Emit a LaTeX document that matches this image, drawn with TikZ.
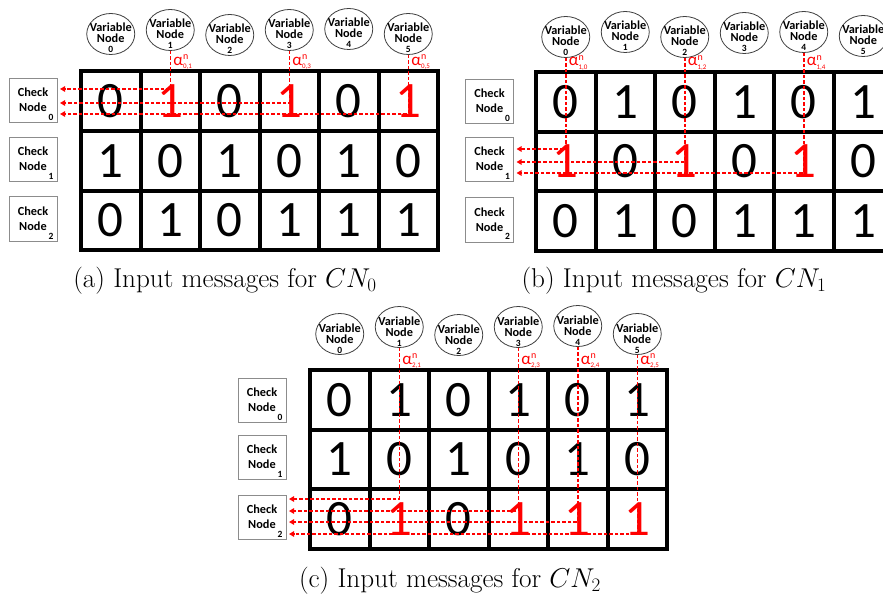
\documentclass[tikz,border=0pt]{standalone}
\usepackage{fix-cm}
\usepackage{fontspec}
\newfontfamily\calfont{Carlito}
\usetikzlibrary{arrows.meta,shapes.geometric}

\newcommand\cw{59.5}
\newcommand\rh{59.6}

\tikzset{
  vn/.style={draw=black!75, line width=0.8pt, ellipse, minimum width=48pt, minimum height=41pt, inner sep=0pt, fill=white},
  cn/.style={draw=black!45, line width=1pt, rectangle, minimum width=48pt, minimum height=44pt, inner sep=0pt, fill=white},
  lbl/.style={font=\calfont\bfseries\fontsize{12.3}{12.3}\selectfont, inner sep=0pt, anchor=base},
  idx/.style={font=\calfont\bfseries\fontsize{9.5}{9.5}\selectfont, inner sep=0pt, anchor=base},
  digit/.style={font=\calfont\fontsize{51}{51}\selectfont, inner sep=0pt},
  gridline/.style={line width=4pt, black},
  msgline/.style={red, line width=1.5pt, dash pattern=on 3.5pt off 2pt, -{Triangle[length=5pt,width=5.5pt]}},
  alphlab/.style={red, font=\calfont\fontsize{17}{17}\selectfont, inner sep=0pt, anchor=base west},
  captext/.style={font=\fontsize{27.2}{32}\selectfont, inner sep=0pt, anchor=base}
}

% #1 prefix, #2 xL, #3 yT, #4 active row, #5 cn x, #6 cn list k/y, #7 vn list k/y
\newcommand\drawpanel[7]{%
  \foreach \r/\vals in {0/{0,1,0,1,0,1},1/{1,0,1,0,1,0},2/{0,1,0,1,1,1}}{%
    \foreach \v [count=\c from 0] in \vals {%
      \def\dc{black}%
      \ifnum\r=#4\relax\ifnum\v=1\relax\def\dc{red}\fi\fi
      \node[digit,text=\dc] (#1-d\r\c) at ({#2+(\c+0.5)*\cw},{#3+(\r+0.5)*\rh}) {\v};
    }%
  }%
  \draw[gridline] (#2,#3) rectangle ({#2+6*\cw},{#3+3*\rh});
  \foreach \i in {1,...,5} \draw[gridline] ({#2+\i*\cw},#3) -- ({#2+\i*\cw},{#3+3*\rh});
  \foreach \j in {1,2} \draw[gridline] (#2,{#3+\j*\rh}) -- ({#2+6*\cw},{#3+\j*\rh});
  \foreach \k/\cy in {#6} {%
    \node[cn] (#1-c\k) at (#5,\cy) {};
    \node[lbl] (#1-ca\k) at ({#5},{\cy-4}) {Check};
    \node[lbl] (#1-cb\k) at ({#5},{\cy+11}) {Node};
    \node[idx] (#1-cc\k) at ({#5+18},{\cy+20}) {\k};
  }%
  \foreach \k/\vy in {#7} {%
    \node[vn] (#1-v\k) at ({#2+(\k+0.5)*\cw},\vy) {};
    \node[lbl] (#1-va\k) at ({#2+(\k+0.5)*\cw},{\vy-2}) {Variable};
    \node[lbl] (#1-vb\k) at ({#2+(\k+0.5)*\cw},{\vy+9}) {Node};
    \node[idx] (#1-vc\k) at ({#2+(\k+0.5)*\cw},{\vy+19}) {\k};
  }%
}

% #1 prefix #2 k #3 y of horizontal #4 tip x #5 xL #6 yT #7 subscript
\newcommand\msgarrow[7]{%
  \coordinate (#1-t#2) at (#4,#3);
  \draw[msgline] (#1-v#2.south) |- (#1-t#2);
  \node[alphlab] (#1-al#2) at ({#5+(#2+0.5)*\cw+3},{#6-6})
    {α\rlap{\smash{\raisebox{5.5pt}{\fontsize{10}{10}\selectfont n}}}\raisebox{-3.5pt}{\fontsize{7}{7}\selectfont #7}};
}

\begin{document}
\begin{tikzpicture}[x=1pt,y=-1pt]
\useasboundingbox (0,0) rectangle (883,596);

% panel (a)
\drawpanel{a}{81}{71.5}{0}{33}{0/101,1/160,2/219}{0/34,1/30,2/35,3/30,4/29,5/34}
\msgarrow{a}{1}{89}{60}{81}{71.5}{0,1}
\msgarrow{a}{3}{103}{60}{81}{71.5}{0,3}
\msgarrow{a}{5}{114}{60}{81}{71.5}{0,5}
\node[captext] (capa) at (225,287) {(a) Input messages for $CN_0$};

% panel (b)
\drawpanel{b}{536}{72}{1}{489.5}{0/102,1/160,2/220}{0/37,1/32,2/37,3/33,4/32,5/36}
\msgarrow{b}{0}{149}{516.5}{536}{72}{1,0}
\msgarrow{b}{2}{162}{516.5}{536}{72}{1,2}
\msgarrow{b}{4}{173}{516.5}{536}{72}{1,4}
\node[captext] (capb) at (674,287) {(b) Input messages for $CN_1$};

% panel (c)
\drawpanel{c}{310}{370}{2}{262}{0/400,1/457,2/517}{0/334,1/327,2/335,3/327,4/326,5/334}
\msgarrow{c}{1}{499}{289}{310}{370}{2,1}
\msgarrow{c}{3}{511}{289}{310}{370}{2,3}
\msgarrow{c}{4}{522}{289}{310}{370}{2,4}
\msgarrow{c}{5}{534}{289}{310}{370}{2,5}
\node[captext] (capc) at (450,587) {(c) Input messages for $CN_2$};
\end{tikzpicture}
\end{document}
